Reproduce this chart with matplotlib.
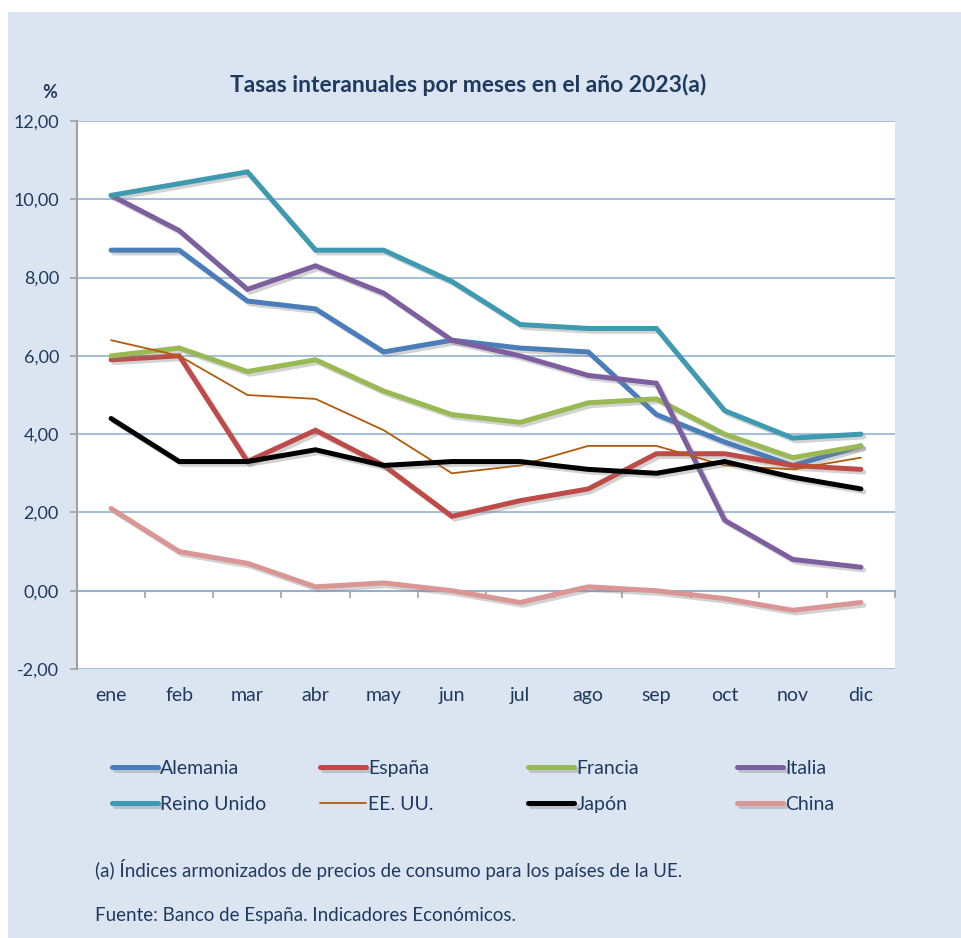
import numpy as np
import matplotlib.pyplot as plt
import matplotlib.patheffects as pe
from matplotlib.patches import Rectangle

plt.rcParams['font.family'] = ['Lato', 'DejaVu Sans']

meses = ['ene', 'feb', 'mar', 'abr', 'may', 'jun', 'jul', 'ago', 'sep', 'oct', 'nov', 'dic']

alemania = [8.7, 8.7, 7.4, 7.2, 6.1, 6.4, 6.2, 6.1, 4.5, 3.8, 3.2, 3.7]
espana = [5.9, 6.0, 3.3, 4.1, 3.2, 1.9, 2.3, 2.6, 3.5, 3.5, 3.2, 3.1]
francia = [6.0, 6.2, 5.6, 5.9, 5.1, 4.5, 4.3, 4.8, 4.9, 4.0, 3.4, 3.7]
italia = [10.1, 9.2, 7.7, 8.3, 7.6, 6.4, 6.0, 5.5, 5.3, 1.8, 0.8, 0.6]
reino_unido = [10.1, 10.4, 10.7, 8.7, 8.7, 7.9, 6.8, 6.7, 6.7, 4.6, 3.9, 4.0]
eeuu = [6.4, 6.0, 5.0, 4.9, 4.1, 3.0, 3.2, 3.7, 3.7, 3.2, 3.1, 3.4]
japon = [4.4, 3.3, 3.3, 3.6, 3.2, 3.3, 3.3, 3.1, 3.0, 3.3, 2.9, 2.6]
china = [2.1, 1.0, 0.7, 0.1, 0.2, 0.0, -0.3, 0.1, 0.0, -0.2, -0.5, -0.3]

series = [
    ('Alemania', alemania, '#4a7ebb', 3.6),
    ('España', espana, '#be4b48', 3.6),
    ('Francia', francia, '#98b954', 3.6),
    ('Italia', italia, '#7d5fa0', 3.6),
    ('Reino Unido', reino_unido, '#3d9ab0', 3.6),
    ('EE. UU.', eeuu, '#b35a0a', 1.3),
    ('Japón', japon, '#000000', 3.6),
    ('China', china, '#d99694', 3.6),
]

navy = '#1f3a5f'
bg = '#dbe5f1'

fig = plt.figure(figsize=(9.61, 9.38), dpi=100)
fig.patch.set_facecolor('white')
fig.patches.append(Rectangle((8 / 961, 0), 1, 1 - 12 / 938, transform=fig.transFigure,
                             facecolor=bg, edgecolor='none', zorder=-10))

ax = fig.add_axes([77 / 961, 1 - 669 / 938, (895 - 77) / 961, (669 - 121) / 938])
ax.set_facecolor('white')

x = np.arange(len(meses))
handles = []
for name, vals, color, lw in series:
    effects = [pe.SimpleLineShadow(offset=(2, -2), shadow_color='#808080', alpha=0.35),
               pe.Normal()] if lw > 2 else []
    h, = ax.plot(x, vals, color=color, lw=lw, label=name, path_effects=effects,
                 solid_joinstyle='miter', solid_capstyle='round')
    handles.append(h)

ax.set_xlim(-0.5, 11.5)
ax.set_ylim(-2, 12)
ax.set_yticks(np.arange(-2, 12.1, 2))
ax.set_yticklabels([f'{v:.2f}'.replace('.', ',') for v in np.arange(-2, 12.1, 2)])
ax.yaxis.grid(True, color='#95b3d7', lw=1.2)
ax.set_axisbelow(True)
for s in ['top', 'right', 'bottom']:
    ax.spines[s].set_visible(False)
ax.spines['left'].set_color('#a0a0a0')
ax.spines['left'].set_linewidth(1.5)
ax.tick_params(axis='y', colors='#a0a0a0', length=5, width=1.2, labelcolor=navy,
               labelsize=13, pad=8)
ax.set_xticks(x)
ax.set_xticklabels(meses)
ax.tick_params(axis='x', length=0, labelcolor=navy, labelsize=14, pad=13)

# eje horizontal en cero con marcas entre categorías
sec = ax.secondary_xaxis(2 / 14)
sec.set_xticks(np.arange(0.5, 12, 1))
sec.set_xticklabels([])
sec.spines['bottom'].set_color('#a0a0a0')
sec.spines['bottom'].set_linewidth(1.5)
sec.tick_params(axis='x', colors='#a0a0a0', length=5, width=1.2, direction='out')

fig.text(468 / 961, 1 - 85 / 938, 'Tasas interanuales por meses en el año 2023(a)',
         ha='center', va='center', fontsize=16.5, fontweight='bold', color=navy)
fig.text(50 / 961, 1 - 93 / 938, '%', ha='center', va='center', fontsize=13,
         fontweight='bold', color=navy)

# leyenda: 4 columnas, 2 filas
col_x = [104, 312, 520, 729]
for j in range(4):
    leg = fig.legend(handles=[handles[j], handles[j + 4]], loc='upper left',
                     bbox_to_anchor=(col_x[j] / 961, 1 - 752 / 938), frameon=False,
                     handlelength=2.4, handletextpad=0.1, fontsize=14,
                     labelspacing=1.0, borderaxespad=0)
    for t in leg.get_texts():
        t.set_color(navy)

fig.text(95 / 961, 1 - 870 / 938,
         '(a) Índices armonizados de precios de consumo para los países de la UE.',
         ha='left', va='center', fontsize=13.5, color=navy)
fig.text(95 / 961, 1 - 915 / 938, 'Fuente: Banco de España. Indicadores Económicos.',
         ha='left', va='center', fontsize=13.5, color=navy)

fig.savefig('out.png', dpi=100, facecolor=fig.get_facecolor())
